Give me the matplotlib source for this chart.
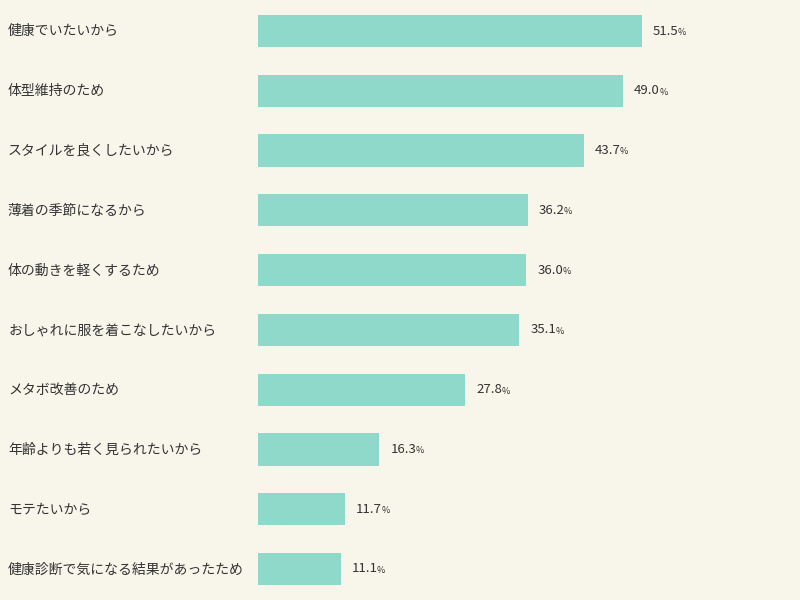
import matplotlib
matplotlib.use("Agg")
import matplotlib.pyplot as plt

plt.rcParams['font.family'] = ['Noto Sans CJK JP', 'DejaVu Sans']

categories = ["健康でいたいから", "体型維持のため", "スタイルを良くしたいから", "薄着の季節になるから",
              "体の動きを軽くするため", "おしゃれに服を着こなしたいから", "メタボ改善のため",
              "年齢よりも若く見られたいから", "モテたいから", "健康診断で気になる結果があったため"]
values = [51.5, 49.0, 43.7, 36.2, 36.0, 35.1, 27.8, 16.3, 11.7, 11.1]

bg = "#f8f6ea"
fig = plt.figure(figsize=(8, 6), dpi=100, facecolor=bg)
ax = fig.add_axes([258/800, 0, 542/800, 1])
ax.set_facecolor(bg)
ys = list(range(len(values)))
ax.barh(ys, values, height=0.54, color="#8fd9ca")
ax.set_xlim(0, 542/7.45)
ax.set_ylim(9.52, -0.52)
ax.axis("off")
for y, v, c in zip(ys, values, categories):
    ax.annotate(f"{v:.1f}", (v, y), xytext=(8, 0), textcoords="offset points",
                va="center", ha="left", fontsize=9.5, color="#333333")
    ax.annotate("%", (v, y), xytext=(26, -1), textcoords="offset points",
                va="center", ha="left", fontsize=6.5, color="#333333")
    fig.text(8/800, 1 - (31 + y*59.9)/600, c, va="center", ha="left", fontsize=10, color="#333333")
fig.savefig("out.png", facecolor=bg)
